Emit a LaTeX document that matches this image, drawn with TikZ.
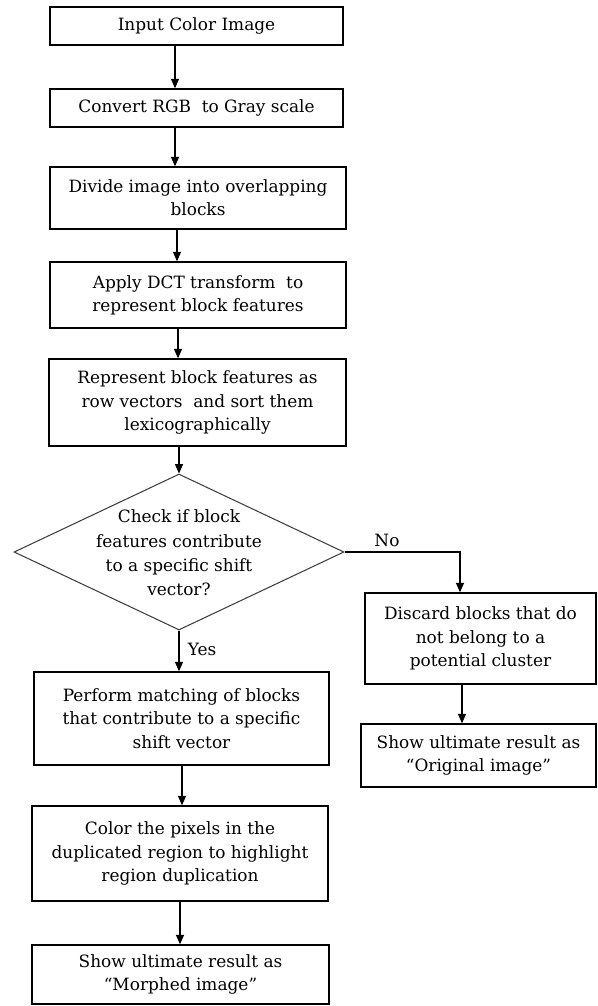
\documentclass[tikz,border=0pt]{standalone}
\usepackage{fontspec}
\setmainfont{DejaVu Serif}
\usetikzlibrary{arrows.meta,shapes.geometric}
\begin{document}
\begin{tikzpicture}[x=0.75pt,y=-0.75pt,
  box/.style={draw=black, line width=1.1pt, align=center, inner sep=0pt, font=\fontsize{12.7}{17.5}\selectfont},
  conn/.style={line width=0.8pt, -{Triangle[length=7pt,width=6pt]}},
  decision/.style={diamond, draw=black!75, line width=0.8pt, inner sep=0pt},
  lbl/.style={font=\fontsize{12.7}{14}\selectfont, inner sep=0pt}]
\useasboundingbox (0,0) rectangle (598,1006);
% boxes
\node[box, minimum width=219.75pt, minimum height=28.5pt] (n1) at (196.5,26) {Input Color Image};
\node[box, minimum width=219.75pt, minimum height=28.5pt] (n2) at (196.5,108) {Convert RGB\ \ to Gray scale};
\node[box, minimum width=222pt, minimum height=46.5pt] (n3) at (198,198) {Divide image into overlapping\\blocks};
\node[box, minimum width=222pt, minimum height=49.5pt] (n4) at (198,295) {Apply DCT transform\ \ to\\represent block features};
\node[box, minimum width=222.75pt, minimum height=65.25pt] (n5) at (197.5,402.5) {Represent block features as\\row vectors\ \ and sort them\\lexicographically};
\node[decision, minimum width=247.5pt, minimum height=117pt] (dia) at (179,552) {};
\node[lbl, align=center, font=\fontsize{12.7}{18.3}\selectfont] (dtext) at (179,553) {Check if block\\features contribute\\to a specific shift\\vector?};
\node[box, minimum width=221.25pt, minimum height=69.75pt] (n6) at (181.5,718.5) {Perform matching of blocks\\that contribute to a specific\\shift vector};
\node[box, minimum width=222pt, minimum height=71.25pt] (n7) at (180,853.5) {Color the pixels in the\\duplicated region to highlight\\region duplication};
\node[box, minimum width=222.75pt, minimum height=44.25pt] (n8) at (180.5,974.5) {Show ultimate result as\\“Morphed image”};
\node[box, minimum width=173.25pt, minimum height=68.25pt] (n9) at (480.5,638.5) {Discard blocks that do\\not belong to a\\potential cluster};
\node[box, minimum width=176.25pt, minimum height=47.25pt] (n10) at (478.5,755.5) {Show ultimate result as\\“Original image”};
% labels
\node[lbl] (no) at (387,540) {No};
\node[lbl] (yes) at (202,649) {Yes};
% x positions of connectors
\coordinate (xa) at (175,0);
\coordinate (xb) at (177,0);
\coordinate (xc) at (178,0);
\coordinate (xd) at (179,0);
\coordinate (xe) at (182,0);
\coordinate (xf) at (180,0);
\coordinate (xr) at (460,0);
\coordinate (xs) at (462,0);
% connectors
\draw[conn] (n1.south -| xa) -- (n2.north -| xa);
\draw[conn] (n2.south -| xa) -- (n3.north -| xa);
\draw[conn] (n3.south -| xb) -- (n4.north -| xb);
\draw[conn] (n4.south -| xc) -- (n5.north -| xc);
\draw[conn] (n5.south -| xd) -- (dia.north);
\draw[conn] (dia.south) -- (n6.north -| xd);
\draw[conn] (n6.south -| xe) -- (n7.north -| xe);
\draw[conn] (n7.south -| xf) -- (n8.north -| xf);
\draw[conn] (dia.east) -- (dia.east -| xr) -- (n9.north -| xr);
\draw[conn] (n9.south -| xs) -- (n10.north -| xs);
\end{tikzpicture}
\end{document}
